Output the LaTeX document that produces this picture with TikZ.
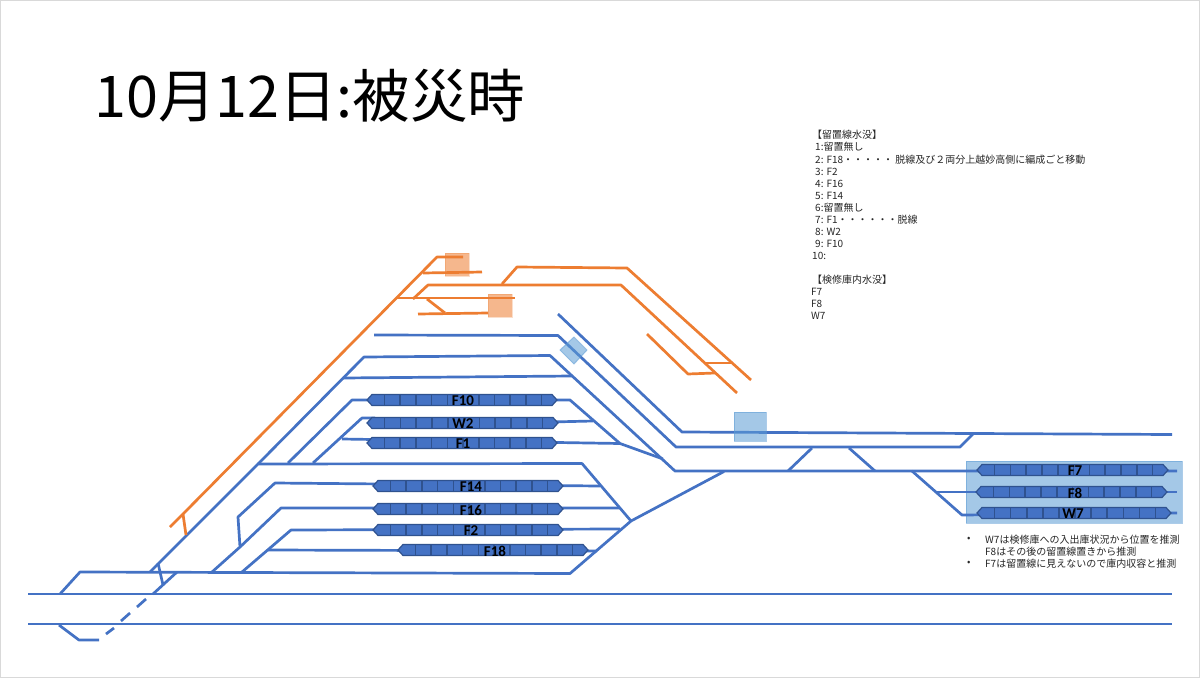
\documentclass[tikz,border=0pt]{standalone}
\usepackage{fontspec}
\setmainfont{Noto Sans CJK JP}
\newfontfamily\latinfont{Carlito}
\definecolor{railblue}{HTML}{4472C4}
\definecolor{railorange}{HTML}{ED7D31}
\definecolor{trainedge}{HTML}{2F528F}
\definecolor{boxblue}{HTML}{5B9BD5}
\newcommand{\trainset}[6]{%
  \draw[trainbody] ({#2},{#4}) -- ({#2+5},{#4-5.5}) -- ({#3-5},{#4-5.5}) -- ({#3},{#4}) -- ({#3-5},{#4+5.5}) -- ({#2+5},{#4+5.5}) -- cycle;
  \foreach \k in {0,...,10}{
    \draw[trainedge,line width=1.6pt] ({#2+17.5+\k*(#3-#2-33)/10},{#4-5.5}) -- ({#2+17.5+\k*(#3-#2-33)/10},{#4+5.5});
  }
  \node[lbl] (#1) at (#6,{#4+1}) {#5};
}
\begin{document}
\begin{tikzpicture}[x=1pt,y=-1pt,
  rail/.style={draw=railblue,line width=2.7pt,line join=round},
  orail/.style={draw=railorange,line width=2.7pt,line join=round},
  trainbody/.style={fill=railblue,draw=trainedge,line width=1.2pt},
  lbl/.style={font=\latinfont\bfseries\fontsize{15}{15}\selectfont,text=black,inner sep=0pt},
  note/.style={font=\fontsize{10}{10}\selectfont,text=black!85,anchor=west,inner sep=0pt,yshift=-0.8pt},
  omark/.style={fill=railorange,fill opacity=.55,draw=railorange,draw opacity=.25,line width=1pt},
  bmark/.style={fill=boxblue,fill opacity=.55,draw=boxblue,draw opacity=.5,line width=1pt}]
\path[use as bounding box] (0,0) rectangle (1200,678);
\draw[draw=black!15,line width=1pt,fill=white] (0.5,0.5) rectangle (1199.5,677.5);
\node[anchor=west,inner sep=0pt,font=\fontsize{57.5}{57.5}\selectfont] (title) at (94,96) {10月12日:被災時};
% depot box
\path[bmark] (966,461) rectangle (1182,523);
% main lines
\draw[rail] (28,594)--(1172,594);
\draw[rail] (28,624)--(1172,624);
\draw[rail] (60,594)--(80,572)--(570,573.5)--(631,521)--(724,471.5);
\draw[rail] (59,625)--(79,640)--(99,640);
\draw[rail] (106,634)--(114,628);
\draw[rail] (121,621)--(130,613);
\draw[rail] (137,607)--(146,599);
\draw[rail] (153,594)--(177,572);
\draw[rail] (150,572)--(258,464)--(582,463.5)--(631,521);
\draw[rail] (158,563)--(163,585);
% orange
\draw[orail] (170,527)--(183,514)--(437,257)--(463,257);
\draw[orail] (183,514)--(186,535);
\draw[orail] (423,273)--(482,272);
\draw[orail] (397,298)--(515,298);
\draw[orail] (413,299)--(428,285)--(621,285)--(737,393);
\draw[orail] (502,284)--(517,267)--(627,268)--(751,380);
\draw[orail] (427,299)--(445,313);
\draw[orail] (418,314)--(488,313);
\draw[orail] (647,334)--(688,374)--(715,373);
\draw[orail] (705,363)--(732,363);
% upper yard
\draw[rail] (558,314)--(682,432)--(1172,434.5);
\draw[rail] (374,335)--(558,335.5)--(676,447)--(960,447)--(973,434);
\draw[rail] (258,464)--(364,357)--(550,355.5)--(675,471)--(1177,471);
\draw[rail] (343,378)--(572,376);
\draw[rail] (288,463)--(352,400)--(570,400)--(620,443.5)--(663,459);
\draw[rail] (313,463)--(362,418)--(375,418);
\draw[rail] (550,422)--(593,421);
\draw[rail] (342,439)--(620,443.5);
% lower yard
\draw[rail] (212,572)--(240,547)--(238,517)--(275,483)--(600,486);
\draw[rail] (240,547)--(281,508)--(619,508);
\draw[rail] (242,572)--(291,530)--(620,529);
\draw[rail] (268,550)--(597,551);
% crossovers and depot tracks
\draw[rail] (788,471)--(812,448);
\draw[rail] (849,448)--(875,471);
\draw[rail] (912,471)--(962,515)--(1177,513);
\draw[rail] (937,492)--(1177,492);
% trains
\trainset{tF}{367}{557}{400}{F10}{463}
\trainset{tW}{367}{558}{423}{W2}{463}
\trainset{tA}{367}{557}{443}{F1}{463}
\trainset{tB}{373}{563}{486}{F14}{471}
\trainset{tC}{373}{563}{509}{F16}{471}
\trainset{tD}{373}{563}{530}{F2}{471}
\trainset{tE}{398}{588}{550}{F18}{495}
\trainset{tG}{977}{1168}{470}{F7}{1075}
\trainset{tH}{976}{1167}{492}{F8}{1075}
\trainset{tI}{977}{1171}{513}{W7}{1073}
% flood marks
\path[omark] (445,253) rectangle (469,276);
\path[omark] (488,294) rectangle (512,317);
\path[bmark] (734,412) rectangle (766,441);
\path[bmark] (574,337) -- (587,350) -- (574,364) -- (560,350) -- cycle;
% notes
\node[note] (n0) at (812,134) {【留置線水没】};
\node[note] (n1) at (815,146) {1:留置無し};
\node[note] (n2) at (815,158.5) {2: F18・・・・・ 脱線及び２両分上越妙高側に編成ごと移動};
\node[note] (n3) at (815,171) {3: F2};
\node[note] (n4) at (815,183) {4: F16};
\node[note] (n5) at (815,195) {5: F14};
\node[note] (n6) at (815,207) {6:留置無し};
\node[note] (n7) at (815,219) {7: F1・・・・・・脱線};
\node[note] (n8) at (815,231) {8: W2};
\node[note] (n9) at (815,243) {9: F10};
\node[note] (n10) at (812,255) {10:};
\node[note] (n11) at (812,279) {【検修庫内水没】};
\node[note] (n12) at (811,291) {F7};
\node[note] (n13) at (811,303) {F8};
\node[note] (n14) at (811,315) {W7};
\node[note] (b1) at (967,539) {•};
\node[note] (b2) at (967,563) {•};
\node[note] (c1) at (985,539) {W7は検修庫への入出庫状況から位置を推測};
\node[note] (c2) at (985,551) {F8はその後の留置線置きから推測};
\node[note] (c3) at (985,563) {F7は留置線に見えないので庫内収容と推測};
\end{tikzpicture}
\end{document}
